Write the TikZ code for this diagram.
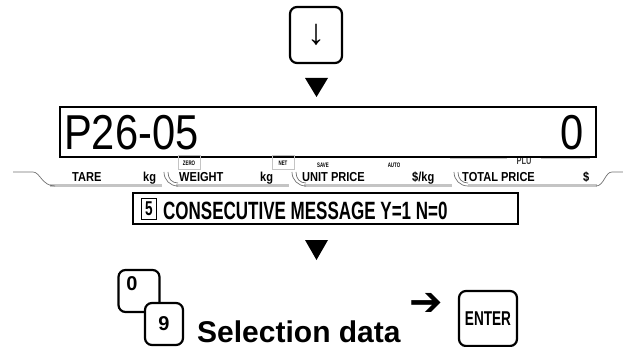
\documentclass[tikz,border=0pt]{standalone}
\usepackage{fontspec}
\setmainfont{Liberation Sans}
\newfontfamily\lcdfont[FakeStretch=0.85]{Liberation Sans}
\newfontfamily\panelfont[FakeStretch=0.85]{Liberation Sans}
\newfontfamily\msgfont[FakeStretch=0.68]{Liberation Sans}
\newfontfamily\symfont{DejaVu Sans}
\definecolor{strip}{HTML}{C4C4C4}
\definecolor{edge}{HTML}{707070}
\usetikzlibrary{positioning}

\begin{document}
\begin{tikzpicture}[x=1pt,y=-1pt,
      key/.style={draw,line width=2.2pt,rounded corners=7pt,fill=white,inner sep=0pt},
      keyfont/.style={font=\bfseries\fontsize{20}{20}\selectfont},
      lcd/.style={font=\lcdfont\fontsize{49}{49}\selectfont,inner sep=0pt},
      panel/.style={font=\panelfont\bfseries\fontsize{13}{13}\selectfont,inner sep=0pt,anchor=base west},
      tinytag/.style={font=\msgfont\bfseries\fontsize{6.5}{6.5}\selectfont,inner sep=0pt},
      tagbox/.style={tinytag,draw=strip,line width=1pt,minimum width=22pt,minimum height=14pt},
      msg/.style={font=\msgfont\bfseries\fontsize{25}{25}\selectfont,inner sep=0pt},
      tabline/.style={strip,line width=3pt},
      tabedge/.style={edge,line width=0.7pt}]
      \useasboundingbox (0,0) rectangle (623,347);
      \node[key,minimum width=52pt,minimum height=56pt] (downkey) at (316,35) {\fontsize{36}{36}\selectfont ↓};
      \fill (305,78) -- (328,78) -- (316.5,97) -- cycle;
      \draw[tabline,line width=2pt] (450,158) -- (507,158);
      \draw[tabline,line width=2pt] (541,158) -- (590,158);
      \node[tinytag,font=\msgfont\bfseries\fontsize{11}{11}\selectfont,text=black!75] (plu) at (524,161) {PLU};
      \node[draw,line width=1.6pt,fill=white,minimum width=536pt,minimum height=50pt,inner sep=0pt] (display) at (328,132) {};
      \node[lcd,anchor=base west] (progno) at (64,150) {P26-05};
      \node[lcd,anchor=base east] (value) at (584,150) {0};
      \draw[tabline] (50,186) -- (162,186);
      \draw[tabline] (176,186) -- (289,186);
      \draw[tabline] (304,186) -- (452,186);
      \draw[tabline] (468,186) -- (597,186);
      \draw[tabedge] (13,172) -- (33,172) .. controls (40,172) and (42,186) .. (55,186);
      \draw[tabedge] (164,172) .. controls (164,180) and (170,186) .. (178,186);
      \draw[tabedge] (168,172) .. controls (168,179) and (172,183) .. (178,183);
      \draw[tabedge] (292,172) .. controls (292,180) and (298,186) .. (306,186);
      \draw[tabedge] (296,172) .. controls (296,179) and (300,183) .. (306,183);
      \draw[tabedge] (454,172) .. controls (454,180) and (460,186) .. (468,186);
      \draw[tabedge] (458,172) .. controls (458,179) and (462,183) .. (468,183);
      \draw[tabedge] (596,186) .. controls (604,186) and (605,172) .. (612,172) -- (623,172);
      \node[panel] (tare) at (72,182) {TARE};
      \node[panel] (tareunit) at (143,182) {kg};
      \node[panel] (weight) at (179,182) {WEIGHT};
      \node[panel] (weightunit) at (260,182) {kg};
      \node[panel] (unitprice) at (302,182) {UNIT PRICE};
      \node[panel] (priceunit) at (412,182) {\$/kg};
      \node[panel] (total) at (462,182) {TOTAL PRICE};
      \node[panel] (totalunit) at (583,182) {\$};
      \node[tagbox] (zerotag) at (189,163) {ZERO};
      \node[tagbox] (nettag) at (283,163) {NET};
      \node[tinytag] (savetag) at (323,165) {SAVE};
      \node[tinytag] (autotag) at (394,165) {AUTO};
      \node[draw,line width=1.6pt,minimum width=385pt,minimum height=31pt] (msgbox) at (325.5,208.5) {};
      \node[draw,line width=0.8pt,minimum width=15pt,minimum height=21pt,inner sep=0pt,font=\msgfont\bfseries\fontsize{20}{20}\selectfont] (msgno) at (149,209) {5};
      \node[msg,anchor=base west] (msgtext) at (163,219) {CONSECUTIVE MESSAGE Y=1 N=0};
      \fill (305,240) -- (328,240) -- (316.5,260) -- cycle;
      \node[key,minimum width=41pt,minimum height=42pt] (key0) at (139,291) {};
      \node[keyfont,inner sep=0pt] (digit0) at ([xshift=-7pt,yshift=7pt]key0.center) {0};
      \node[key,keyfont,minimum width=38pt,minimum height=42pt] (key9) at (164,324) {9};
      \node[font=\bfseries\fontsize{30}{30}\selectfont,inner sep=0pt,anchor=base west] (seldata) at (197,342) {Selection data};
      \node[font=\symfont\bfseries\fontsize{40}{40}\selectfont,inner sep=0pt] (arrow) at (426,304.5) {➔};
      \node[key,minimum width=58pt,minimum height=55pt,font=\msgfont\bfseries\fontsize{20}{20}\selectfont] (enter) at (488,318.5) {ENTER};
    \end{tikzpicture}
\end{document}
